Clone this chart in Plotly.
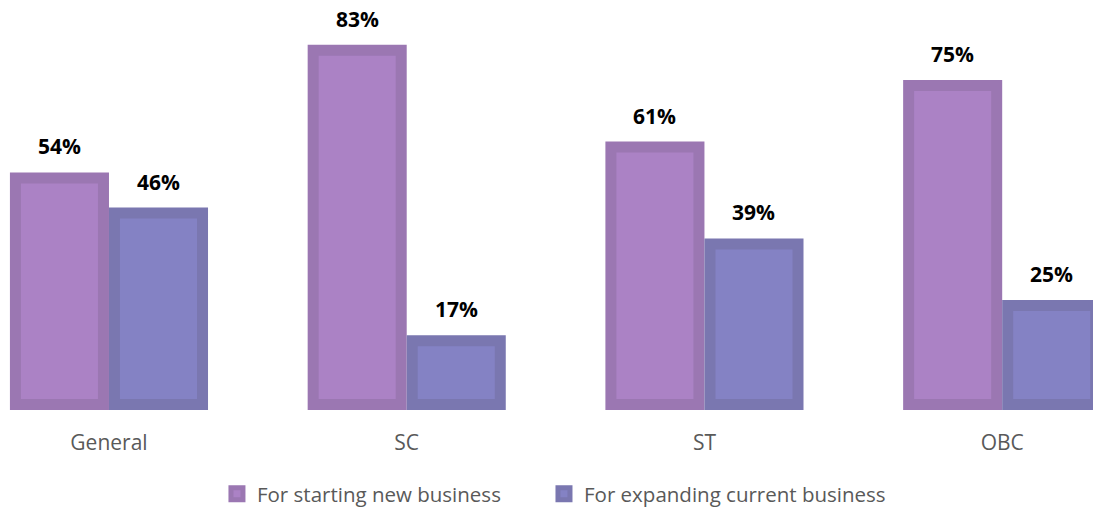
import plotly.graph_objects as go

categories = ["General", "SC", "ST", "OBC"]
starting_new = [54, 83, 61, 75]
expanding_current = [46, 17, 39, 25]
series_names = ["For starting new business", "For expanding current business"]

fill_colors = ["#AB82C5", "#8482C4"]
line_colors = ["#9B77B2", "#7A77B0"]
group_shift = [-49.5, 49.5]  # pixel offset of each bar inside its group
legend_ids = ["legend", "legend2"]

PLOT_H = 410          # plot area height in px
Y_MAX = 93.18         # y-axis maximum (data units)
BORDER_PX = 11        # bar border width
inset = BORDER_PX * Y_MAX / PLOT_H   # border width in data units (border drawn inside the bar)

fig = go.Figure()
for name, vals, fc, lc, lg in zip(series_names, [starting_new, expanding_current],
                                  fill_colors, line_colors, legend_ids):
    fig.add_trace(go.Bar(
        x=categories, y=[v - inset for v in vals], base=inset / 2,
        name=name, legend=lg, customdata=vals,
        marker=dict(color=fc, line=dict(color=lc, width=BORDER_PX)),
        hovertemplate="%{x}: %{customdata}%<extra>" + name + "</extra>",
    ))

for vals, dx in zip([starting_new, expanding_current], group_shift):
    for cat, v in zip(categories, vals):
        fig.add_annotation(
            x=cat, y=v, xref="x", yref="y", text=f"<b>{v}%</b>",
            showarrow=False, xshift=dx, yshift=10, yanchor="bottom",
            font=dict(family="Open Sans", size=21, color="#000000"),
        )

legend_font = dict(family="Open Sans", size=20.5, color="#595959")
fig.update_layout(
    width=1093, height=510,
    margin=dict(l=0, r=0, t=0, b=510 - PLOT_H),
    paper_bgcolor="white", plot_bgcolor="white",
    barmode="group", bargap=0.3347, bargroupgap=0.111,
    showlegend=True,
    legend=dict(orientation="h", x=0.1985, xanchor="left", xref="paper",
                y=0.0314, yanchor="middle", yref="container",
                font=legend_font, itemwidth=30),
    legend2=dict(orientation="h", x=0.4977, xanchor="left", xref="paper",
                 y=0.0314, yanchor="middle", yref="container",
                 font=legend_font, itemwidth=30),
    font=dict(family="Open Sans"),
)
fig.update_xaxes(range=[-0.366, 3.305], showline=False, showgrid=False, zeroline=False,
                 tickfont=dict(family="Open Sans", size=21, color="#595959"),
                 ticks="", ticklabelstandoff=18, automargin=False)
fig.update_yaxes(range=[0, Y_MAX], visible=False, showgrid=False, zeroline=False)

fig.write_html("out.html", config={"displayModeBar": False},
               post_script="document.body.style.margin='0px';")
